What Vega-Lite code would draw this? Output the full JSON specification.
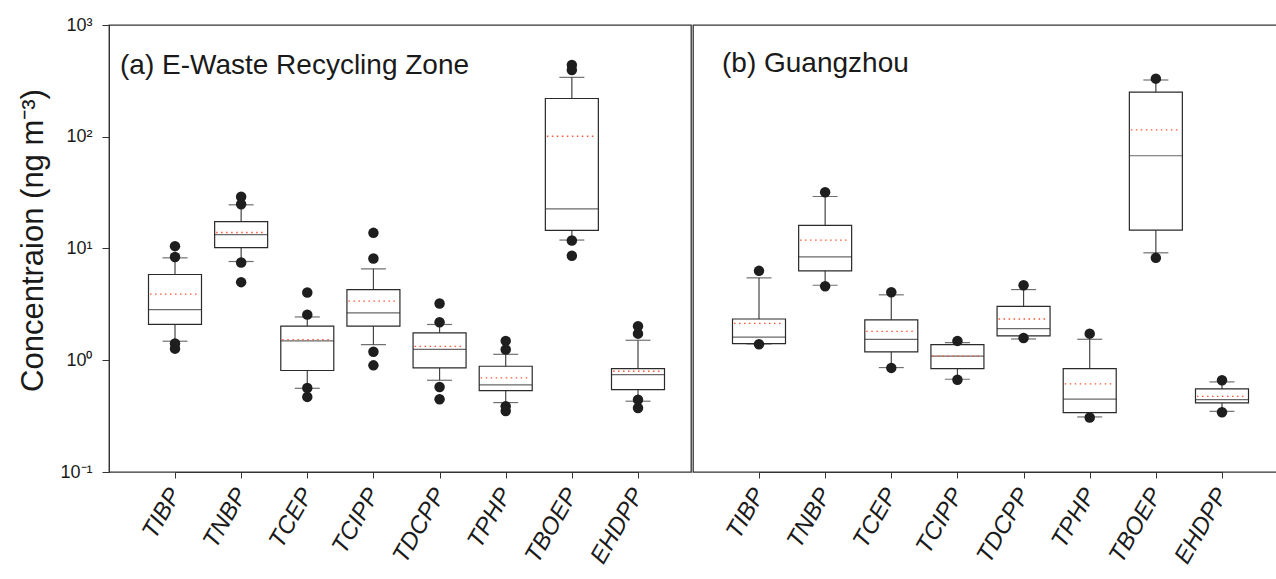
{
  "$schema": "https://vega.github.io/schema/vega-lite/v6.json",
  "padding": {"left": 17, "top": 15, "right": 0, "bottom": 0},
  "config": {
    "font": "Liberation Sans",
    "view": {"stroke": "#333333", "strokeWidth": 1.3},
    "concat": {"spacing": 0},
    "axis": {"grid": false, "domainColor": "#333333", "tickColor": "#333333", "labelColor": "#1a1a1a", "titleColor": "#1a1a1a"}
  },
  "datasets": {
    "stats": [
      {"panel": "a", "compound": "TIBP", "q1": 2.09, "q3": 5.85, "median": 2.84, "mean": 3.9, "lo": 1.48, "hi": 8.25},
      {"panel": "a", "compound": "TNBP", "q1": 10.2, "q3": 17.4, "median": 13.3, "mean": 13.9, "lo": 7.65, "hi": 24.6},
      {"panel": "a", "compound": "TCEP", "q1": 0.81, "q3": 2.02, "median": 1.49, "mean": 1.53, "lo": 0.561, "hi": 2.44},
      {"panel": "a", "compound": "TCIPP", "q1": 2.02, "q3": 4.29, "median": 2.65, "mean": 3.38, "lo": 1.38, "hi": 6.58},
      {"panel": "a", "compound": "TDCPP", "q1": 0.854, "q3": 1.76, "median": 1.25, "mean": 1.33, "lo": 0.662, "hi": 2.09},
      {"panel": "a", "compound": "TPHP", "q1": 0.535, "q3": 0.884, "median": 0.601, "mean": 0.695, "lo": 0.418, "hi": 1.13},
      {"panel": "a", "compound": "TBOEP", "q1": 14.5, "q3": 220, "median": 22.6, "mean": 101, "lo": 11.9, "hi": 340},
      {"panel": "a", "compound": "EHDPP", "q1": 0.546, "q3": 0.842, "median": 0.744, "mean": 0.797, "lo": 0.43, "hi": 1.51},
      {"panel": "b", "compound": "TIBP", "q1": 1.41, "q3": 2.34, "median": 1.61, "mean": 2.14, "lo": 1.4, "hi": 5.46},
      {"panel": "b", "compound": "TNBP", "q1": 6.31, "q3": 16.1, "median": 8.42, "mean": 11.9, "lo": 4.69, "hi": 29.2},
      {"panel": "b", "compound": "TCEP", "q1": 1.19, "q3": 2.3, "median": 1.54, "mean": 1.81, "lo": 0.86, "hi": 3.85},
      {"panel": "b", "compound": "TCIPP", "q1": 0.842, "q3": 1.38, "median": 1.09, "mean": 1.09, "lo": 0.676, "hi": 1.44},
      {"panel": "b", "compound": "TDCPP", "q1": 1.65, "q3": 3.04, "median": 1.92, "mean": 2.34, "lo": 1.55, "hi": 4.29},
      {"panel": "b", "compound": "TPHP", "q1": 0.34, "q3": 0.842, "median": 0.448, "mean": 0.614, "lo": 0.311, "hi": 1.54},
      {"panel": "b", "compound": "TBOEP", "q1": 14.6, "q3": 251, "median": 67.6, "mean": 115, "lo": 9.15, "hi": 322},
      {"panel": "b", "compound": "EHDPP", "q1": 0.415, "q3": 0.554, "median": 0.444, "mean": 0.476, "lo": 0.349, "hi": 0.64}
    ],
    "outliers": [
      {"panel": "a", "compound": "TIBP", "value": 10.5}, {"panel": "a", "compound": "TIBP", "value": 8.4}, {"panel": "a", "compound": "TIBP", "value": 1.41}, {"panel": "a", "compound": "TIBP", "value": 1.27},
      {"panel": "a", "compound": "TNBP", "value": 29.0}, {"panel": "a", "compound": "TNBP", "value": 24.9}, {"panel": "a", "compound": "TNBP", "value": 7.5}, {"panel": "a", "compound": "TNBP", "value": 5.0},
      {"panel": "a", "compound": "TCEP", "value": 4.04}, {"panel": "a", "compound": "TCEP", "value": 2.56}, {"panel": "a", "compound": "TCEP", "value": 0.565}, {"panel": "a", "compound": "TCEP", "value": 0.47},
      {"panel": "a", "compound": "TCIPP", "value": 13.8}, {"panel": "a", "compound": "TCIPP", "value": 8.14}, {"panel": "a", "compound": "TCIPP", "value": 1.19}, {"panel": "a", "compound": "TCIPP", "value": 0.9},
      {"panel": "a", "compound": "TDCPP", "value": 3.22}, {"panel": "a", "compound": "TDCPP", "value": 2.19}, {"panel": "a", "compound": "TDCPP", "value": 0.577}, {"panel": "a", "compound": "TDCPP", "value": 0.448},
      {"panel": "a", "compound": "TPHP", "value": 1.49}, {"panel": "a", "compound": "TPHP", "value": 1.25}, {"panel": "a", "compound": "TPHP", "value": 0.387}, {"panel": "a", "compound": "TPHP", "value": 0.352},
      {"panel": "a", "compound": "TBOEP", "value": 438}, {"panel": "a", "compound": "TBOEP", "value": 395}, {"panel": "a", "compound": "TBOEP", "value": 11.8}, {"panel": "a", "compound": "TBOEP", "value": 8.6},
      {"panel": "a", "compound": "EHDPP", "value": 2.02}, {"panel": "a", "compound": "EHDPP", "value": 1.73}, {"panel": "a", "compound": "EHDPP", "value": 0.444}, {"panel": "a", "compound": "EHDPP", "value": 0.374},
      {"panel": "b", "compound": "TIBP", "value": 6.31}, {"panel": "b", "compound": "TIBP", "value": 1.39},
      {"panel": "b", "compound": "TNBP", "value": 31.9}, {"panel": "b", "compound": "TNBP", "value": 4.6},
      {"panel": "b", "compound": "TCEP", "value": 4.06}, {"panel": "b", "compound": "TCEP", "value": 0.854},
      {"panel": "b", "compound": "TCIPP", "value": 1.49}, {"panel": "b", "compound": "TCIPP", "value": 0.67},
      {"panel": "b", "compound": "TDCPP", "value": 4.69}, {"panel": "b", "compound": "TDCPP", "value": 1.58},
      {"panel": "b", "compound": "TPHP", "value": 1.73}, {"panel": "b", "compound": "TPHP", "value": 0.307},
      {"panel": "b", "compound": "TBOEP", "value": 331}, {"panel": "b", "compound": "TBOEP", "value": 8.25},
      {"panel": "b", "compound": "EHDPP", "value": 0.662}, {"panel": "b", "compound": "EHDPP", "value": 0.343}
    ]
  },
  "hconcat": [
    {
      "width": 582,
      "height": 447,
      "title": {"text": "(a) E-Waste Recycling Zone", "anchor": "start", "frame": "group", "orient": "top", "offset": -86, "dx": 11, "fontSize": 28, "fontWeight": "normal", "color": "#1a1a1a", "baseline": "alphabetic"},
      "encoding": {
        "x": {"field": "compound", "type": "nominal",
          "scale": {"type": "point", "padding": 0, "domain": ["TIBP", "TNBP", "TCEP", "TCIPP", "TDCPP", "TPHP", "TBOEP", "EHDPP"], "range": [66, 529]},
          "axis": {"title": null, "labelAngle": -60, "labelFontSize": 24, "labelFontStyle": "italic", "tickSize": 6, "labelPadding": 12, "domain": true}}
      },
      "layer": [
        {"data": {"name": "stats"}, "transform": [{"filter": "datum.panel == 'a'"}],
         "mark": {"type": "rule", "color": "#444444", "strokeWidth": 1.2},
         "encoding": {"y": {"field": "lo", "type": "quantitative", "scale": {"type": "log", "domain": [0.1, 1000]},
           "axis": {"title": "Concentraion (ng m⁻³)", "titleFontSize": 31, "titleFontWeight": "normal", "titlePadding": 10, "titleY": 215, "values": [0.1, 1, 10, 100, 1000], "labelFontSize": 18, "tickSize": 7, "labelPadding": 10,
             "labelExpr": "datum.value < 0.5 ? '10⁻¹' : datum.value < 5 ? '10⁰' : datum.value < 50 ? '10¹' : datum.value < 500 ? '10²' : '10³'"}},
           "y2": {"field": "hi"}}},
        {"data": {"name": "stats"}, "transform": [{"filter": "datum.panel == 'a'"}],
         "mark": {"type": "tick", "color": "#333333", "size": 25, "thickness": 1.2},
         "encoding": {"y": {"field": "lo", "type": "quantitative"}}},
        {"data": {"name": "stats"}, "transform": [{"filter": "datum.panel == 'a'"}],
         "mark": {"type": "tick", "color": "#333333", "size": 25, "thickness": 1.2},
         "encoding": {"y": {"field": "hi", "type": "quantitative"}}},
        {"data": {"name": "stats"}, "transform": [{"filter": "datum.panel == 'a'"}],
         "mark": {"type": "bar", "size": 53, "fill": "white", "stroke": "#2a2a2a", "strokeWidth": 1.2},
         "encoding": {"y": {"field": "q1", "type": "quantitative"}, "y2": {"field": "q3"}}},
        {"data": {"name": "stats"}, "transform": [{"filter": "datum.panel == 'a'"}],
         "mark": {"type": "tick", "color": "#2a2a2a", "size": 53, "thickness": 1.2},
         "encoding": {"y": {"field": "median", "type": "quantitative"}}},
        {"data": {"name": "stats"}, "transform": [{"filter": "datum.panel == 'a'"}],
         "mark": {"type": "rule", "color": "#ff5533", "strokeWidth": 1.3, "strokeDash": [1.5, 3.5], "xOffset": -25, "x2Offset": 25},
         "encoding": {"x2": {"field": "compound"}, "y": {"field": "mean", "type": "quantitative"}}},
        {"data": {"name": "outliers"}, "transform": [{"filter": "datum.panel == 'a'"}],
         "mark": {"type": "point", "filled": true, "color": "#1e1e1e", "opacity": 1, "size": 110},
         "encoding": {"y": {"field": "value", "type": "quantitative"}}}
      ]
    },
    {
      "width": 600,
      "height": 447,
      "title": {"text": "(b) Guangzhou", "anchor": "start", "frame": "group", "orient": "top", "offset": -75, "dx": 29, "fontSize": 28, "fontWeight": "normal", "color": "#1a1a1a", "baseline": "alphabetic"},
      "encoding": {
        "x": {"field": "compound", "type": "nominal",
          "scale": {"type": "point", "padding": 0, "domain": ["TIBP", "TNBP", "TCEP", "TCIPP", "TDCPP", "TPHP", "TBOEP", "EHDPP"], "range": [66, 529]},
          "axis": {"title": null, "labelAngle": -60, "labelFontSize": 24, "labelFontStyle": "italic", "tickSize": 6, "labelPadding": 12, "domain": true}}
      },
      "layer": [
        {"data": {"name": "stats"}, "transform": [{"filter": "datum.panel == 'b'"}],
         "mark": {"type": "rule", "color": "#444444", "strokeWidth": 1.2},
         "encoding": {"y": {"field": "lo", "type": "quantitative", "scale": {"type": "log", "domain": [0.1, 1000]}, "axis": null},
           "y2": {"field": "hi"}}},
        {"data": {"name": "stats"}, "transform": [{"filter": "datum.panel == 'b'"}],
         "mark": {"type": "tick", "color": "#333333", "size": 25, "thickness": 1.2},
         "encoding": {"y": {"field": "lo", "type": "quantitative", "axis": null}}},
        {"data": {"name": "stats"}, "transform": [{"filter": "datum.panel == 'b'"}],
         "mark": {"type": "tick", "color": "#333333", "size": 25, "thickness": 1.2},
         "encoding": {"y": {"field": "hi", "type": "quantitative", "axis": null}}},
        {"data": {"name": "stats"}, "transform": [{"filter": "datum.panel == 'b'"}],
         "mark": {"type": "bar", "size": 53, "fill": "white", "stroke": "#2a2a2a", "strokeWidth": 1.2},
         "encoding": {"y": {"field": "q1", "type": "quantitative", "axis": null}, "y2": {"field": "q3"}}},
        {"data": {"name": "stats"}, "transform": [{"filter": "datum.panel == 'b'"}],
         "mark": {"type": "tick", "color": "#2a2a2a", "size": 53, "thickness": 1.2},
         "encoding": {"y": {"field": "median", "type": "quantitative", "axis": null}}},
        {"data": {"name": "stats"}, "transform": [{"filter": "datum.panel == 'b'"}],
         "mark": {"type": "rule", "color": "#ff5533", "strokeWidth": 1.3, "strokeDash": [1.5, 3.5], "xOffset": -25, "x2Offset": 25},
         "encoding": {"x2": {"field": "compound"}, "y": {"field": "mean", "type": "quantitative", "axis": null}}},
        {"data": {"name": "outliers"}, "transform": [{"filter": "datum.panel == 'b'"}],
         "mark": {"type": "point", "filled": true, "color": "#1e1e1e", "opacity": 1, "size": 110},
         "encoding": {"y": {"field": "value", "type": "quantitative", "axis": null}}}
      ]
    }
  ]
}
